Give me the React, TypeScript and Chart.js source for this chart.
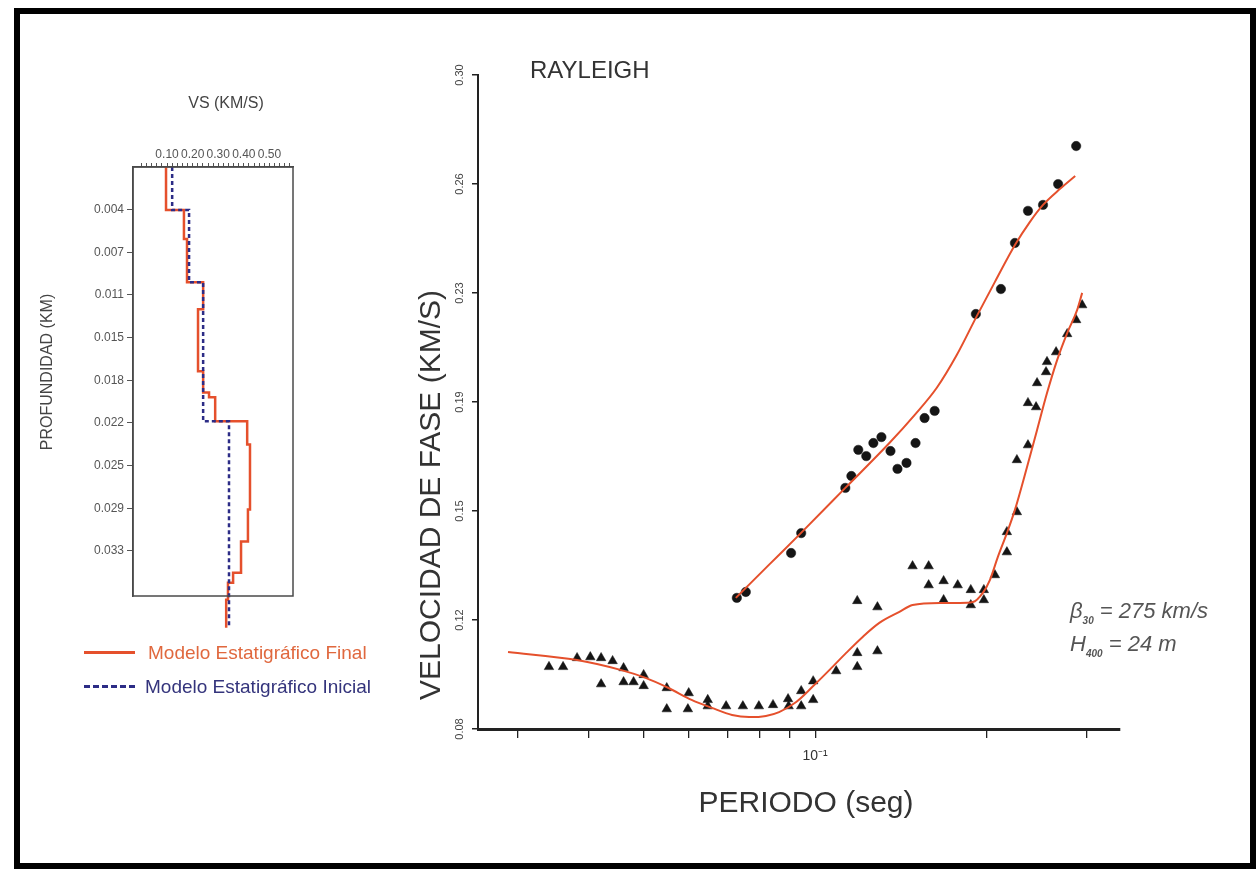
import React, { useEffect, useRef } from 'react';
import { Chart, registerables } from 'chart.js';

Chart.register(...registerables);

const FONT = '"Liberation Sans", Arial, Helvetica, sans-serif';
Chart.defaults.font.family = FONT;

// ---------- Left panel: shear-wave velocity profile ----------
const vsTickLabelValues = [0.1, 0.2, 0.3, 0.4, 0.5];
const depthTickValues = [0.00364, 0.00728, 0.01092, 0.01456, 0.0182, 0.02184, 0.02548, 0.02912, 0.03276];
const depthTickLabels = ['0.004', '0.007', '0.011', '0.015', '0.018', '0.022', '0.025', '0.029', '0.033'];

// Final model (layer tops in km, Vs in km/s)
const finalLayerTop = [0, 0.00367, 0.00615, 0.00983, 0.01213, 0.01743, 0.01923, 0.01965, 0.0217, 0.02367, 0.02922, 0.03196, 0.03461, 0.03546, 0.03691];
const finalLayerVs = [0.096, 0.166, 0.178, 0.241, 0.221, 0.241, 0.264, 0.288, 0.413, 0.424, 0.416, 0.389, 0.358, 0.338, 0.331];
const finalBottom = 0.0393;

// Initial model
const initialLayerTop = [0, 0.00367, 0.00983, 0.0217];
const initialLayerVs = [0.12, 0.186, 0.241, 0.342];
const initialBottom = 0.0393;

// ---------- Right panel: Rayleigh dispersion ----------
const periodTicks = [0.03, 0.04, 0.05, 0.06, 0.07, 0.08, 0.09, 0.1, 0.2, 0.3];
const velTickValues = [0.08, 0.11667, 0.15333, 0.19, 0.22667, 0.26333, 0.3];
const velTickLabels = ['0.08', '0.12', '0.15', '0.19', '0.23', '0.26', '0.30'];

const circlePeriod = [0.0728, 0.0755, 0.0907, 0.0945, 0.113, 0.1158, 0.1191, 0.123, 0.1266, 0.1308, 0.1357, 0.1396, 0.1448, 0.1502, 0.1558, 0.1623, 0.1918, 0.2123, 0.2247, 0.2369, 0.2518, 0.2677, 0.288];
const circleVel = [0.1241, 0.1261, 0.1392, 0.1459, 0.1611, 0.1651, 0.1739, 0.1718, 0.1762, 0.1782, 0.1735, 0.1675, 0.1695, 0.1762, 0.1846, 0.187, 0.2196, 0.228, 0.2435, 0.2543, 0.2563, 0.2633, 0.2761];

const trianglePeriod = [0.034, 0.036, 0.0381, 0.0402, 0.042, 0.044, 0.042, 0.046, 0.046, 0.0479, 0.0499, 0.0499, 0.0548, 0.0548, 0.0599, 0.0597, 0.0647, 0.0647, 0.0697, 0.0746, 0.0796, 0.0843, 0.0896, 0.0898, 0.0945, 0.0945, 0.0992, 0.0992, 0.1089, 0.1186, 0.1186, 0.1287, 0.1186, 0.1287, 0.1484, 0.1584, 0.1584, 0.1683, 0.1782, 0.1683, 0.1879, 0.1879, 0.1981, 0.1981, 0.2072, 0.2175, 0.2175, 0.2265, 0.2265, 0.2369, 0.2369, 0.2448, 0.2458, 0.2549, 0.2559, 0.2655, 0.2777, 0.288, 0.2951];
const triangleVel = [0.1009, 0.1009, 0.1039, 0.1042, 0.1039, 0.1029, 0.0951, 0.1005, 0.0958, 0.0958, 0.0982, 0.0945, 0.0938, 0.0867, 0.0921, 0.0867, 0.0898, 0.0877, 0.0877, 0.0877, 0.0877, 0.0881, 0.0901, 0.0877, 0.0928, 0.0877, 0.0961, 0.0898, 0.0995, 0.1056, 0.1009, 0.1062, 0.1231, 0.121, 0.1348, 0.1348, 0.1284, 0.1298, 0.1284, 0.1234, 0.1268, 0.1217, 0.1268, 0.1234, 0.1318, 0.1395, 0.1463, 0.153, 0.1705, 0.1755, 0.1897, 0.1883, 0.1964, 0.2001, 0.2035, 0.2068, 0.2129, 0.2176, 0.2226];

const upperFitPeriod = [0.0725, 0.0829, 0.0937, 0.113, 0.1351, 0.1496, 0.1636, 0.1775, 0.1918, 0.2072, 0.2247, 0.2388, 0.2518, 0.2698, 0.2869];
const upperFitVel = [0.1241, 0.1352, 0.1453, 0.1611, 0.1762, 0.1856, 0.1947, 0.2058, 0.2183, 0.2304, 0.2428, 0.2506, 0.2563, 0.2617, 0.266];

const lowerFitPeriod = [0.0288, 0.0381, 0.0456, 0.0503, 0.0552, 0.0606, 0.0658, 0.0714, 0.0765, 0.0819, 0.0864, 0.0926, 0.0988, 0.1059, 0.1134, 0.1211, 0.1297, 0.1407, 0.1484, 0.1656, 0.1797, 0.1895, 0.1973, 0.203, 0.2097, 0.2175, 0.2247, 0.236, 0.2458, 0.2559, 0.2666, 0.2777, 0.2892, 0.2951];
const lowerFitVel = [0.1059, 0.1032, 0.0998, 0.0972, 0.0938, 0.0898, 0.0871, 0.0847, 0.084, 0.0844, 0.0857, 0.0891, 0.0941, 0.0998, 0.1056, 0.1109, 0.1157, 0.1194, 0.1217, 0.1224, 0.1224, 0.1227, 0.1258, 0.1301, 0.1379, 0.1459, 0.1537, 0.1681, 0.1806, 0.193, 0.2041, 0.2132, 0.221, 0.2267];

const RED = '#e5502c';
const NAVY = '#2c2c86';

const pairs = (xs: number[], ys: number[]) => xs.map((x, i) => ({ x, y: ys[i] }));

const stepProfile = (tops: number[], vs: number[], bottom: number) => {
  const pts: { x: number; y: number }[] = [];
  tops.forEach((t, i) => {
    const b = i < tops.length - 1 ? tops[i + 1] : bottom;
    pts.push({ x: vs[i], y: t });
    pts.push({ x: vs[i], y: b });
  });
  return pts;
};

const boxPlugin = {
  id: 'boxPlugin',
  afterDraw(chart: any) {
    const { left, top, right, bottom } = chart.chartArea;
    const ctx = chart.ctx;
    ctx.save();
    ctx.strokeStyle = '#4a4a4a';
    ctx.lineWidth = 1.5;
    ctx.strokeRect(left, top, right - left, bottom - top);
    ctx.restore();
  },
};

const rotatedYLabels = {
  id: 'rotatedYLabels',
  afterDraw(chart: any) {
    const y = chart.scales.y;
    const ctx = chart.ctx;
    ctx.save();
    ctx.fillStyle = '#444';
    ctx.font = `11px ${FONT}`;
    ctx.textAlign = 'center';
    ctx.textBaseline = 'middle';
    velTickValues.forEach((v, i) => {
      const py = y.getPixelForValue(v);
      ctx.save();
      ctx.translate(y.right - 18, py);
      ctx.rotate(-Math.PI / 2);
      ctx.fillText(velTickLabels[i], 0, 0);
      ctx.restore();
    });
    ctx.restore();
  },
};

export default function App() {
  const leftRef = useRef<HTMLCanvasElement | null>(null);
  const rightRef = useRef<HTMLCanvasElement | null>(null);

  useEffect(() => {
    const vsMinor: number[] = [];
    for (let k = 0; k <= 29; k++) vsMinor.push(+(k * 0.02).toFixed(2));

    const left = new Chart(leftRef.current as HTMLCanvasElement, {
      type: 'scatter',
      data: {
        datasets: [
          {
            data: stepProfile(initialLayerTop, initialLayerVs, initialBottom),
            showLine: true,
            borderColor: NAVY,
            borderWidth: 2.5,
            borderDash: [4, 3],
            pointRadius: 0,
            clip: false,
          } as any,
          {
            data: stepProfile(finalLayerTop, finalLayerVs, finalBottom),
            showLine: true,
            borderColor: RED,
            borderWidth: 2.5,
            pointRadius: 0,
            clip: false,
          } as any,
        ],
      },
      options: {
        responsive: false,
        animation: false,
        events: [],
        layout: { padding: { left: 83, right: 965, top: 147, bottom: 275 } },
        plugins: { legend: { display: false }, tooltip: { enabled: false } },
        scales: {
          x: {
            type: 'linear',
            position: 'top',
            min: -0.033,
            max: 0.592,
            afterFit(s: any) { s.height = 20; },
            afterBuildTicks(s: any) { s.ticks = vsMinor.map((v) => ({ value: v })); },
            ticks: {
              autoSkip: false,
              maxRotation: 0,
              minRotation: 0,
              padding: 1,
              color: '#555',
              font: { size: 12 },
              callback: (v: any) => {
                const hit = vsTickLabelValues.find((t) => Math.abs(t - Number(v)) < 1e-6);
                return hit !== undefined ? hit.toFixed(2) : '';
              },
            },
            grid: { drawOnChartArea: false, tickLength: 4, color: '#555', lineWidth: 1 },
            border: { color: '#4a4a4a', width: 1.5 },
          },
          y: {
            type: 'linear',
            reverse: true,
            min: 0,
            max: 0.0366,
            afterFit(s: any) { s.width = 50; },
            afterBuildTicks(s: any) { s.ticks = depthTickValues.map((v) => ({ value: v })); },
            ticks: {
              autoSkip: false,
              padding: 3,
              color: '#555',
              font: { size: 12 },
              callback: (_v: any, i: number) => depthTickLabels[i],
            },
            grid: { drawOnChartArea: false, tickLength: 6, color: '#555', lineWidth: 1 },
            border: { color: '#4a4a4a', width: 1.5 },
          },
        },
      } as any,
      plugins: [boxPlugin],
    });

    const right = new Chart(rightRef.current as HTMLCanvasElement, {
      type: 'scatter',
      data: {
        datasets: [
          {
            data: pairs(upperFitPeriod, upperFitVel),
            showLine: true,
            borderColor: RED,
            borderWidth: 2,
            pointRadius: 0,
            cubicInterpolationMode: 'monotone',
          } as any,
          {
            data: pairs(lowerFitPeriod, lowerFitVel),
            showLine: true,
            borderColor: RED,
            borderWidth: 2,
            pointRadius: 0,
            cubicInterpolationMode: 'monotone',
          } as any,
          {
            data: pairs(circlePeriod, circleVel),
            pointStyle: 'circle',
            pointRadius: 4.7,
            backgroundColor: '#151515',
            borderColor: '#151515',
            borderWidth: 0.5,
          },
          {
            data: pairs(trianglePeriod, triangleVel),
            pointStyle: 'triangle',
            pointRadius: 5.5,
            backgroundColor: '#151515',
            borderColor: '#151515',
            borderWidth: 0.5,
          },
        ],
      },
      options: {
        responsive: false,
        animation: false,
        events: [],
        layout: { padding: { left: 438, right: 138, top: 75, bottom: 102 } },
        plugins: { legend: { display: false }, tooltip: { enabled: false } },
        scales: {
          x: {
            type: 'logarithmic',
            min: 0.0255,
            max: 0.344,
            afterFit(s: any) { s.height = 40; },
            afterBuildTicks(s: any) { s.ticks = periodTicks.map((v) => ({ value: v })); },
            ticks: {
              autoSkip: false,
              maxRotation: 0,
              minRotation: 0,
              padding: 10,
              color: '#333',
              font: { size: 14 },
              callback: (v: any) => (Math.abs(Number(v) - 0.1) < 1e-9 ? '10⁻¹' : ''),
            },
            grid: { drawOnChartArea: false, tickLength: 9, color: '#222', lineWidth: 1.3 },
            border: { color: '#222', width: 3 },
          },
          y: {
            type: 'linear',
            min: 0.08,
            max: 0.3,
            afterFit(s: any) { s.width = 40; },
            afterBuildTicks(s: any) { s.ticks = velTickValues.map((v) => ({ value: v })); },
            ticks: { display: false },
            grid: { drawOnChartArea: false, tickLength: 6, color: '#222', lineWidth: 1.5 },
            border: { color: '#222', width: 2 },
          },
        },
      } as any,
      plugins: [rotatedYLabels],
    });

    return () => {
      left.destroy();
      right.destroy();
    };
  }, []);

  const abs = (s: React.CSSProperties): React.CSSProperties => ({ position: 'absolute', whiteSpace: 'nowrap', lineHeight: 1, ...s });

  return (
    <div style={{ position: 'absolute', left: 0, top: 0, width: 1258, height: 871, background: '#fff', fontFamily: FONT, overflow: 'hidden' }}>
      <canvas ref={leftRef} width={1258} height={871} style={{ position: 'absolute', left: 0, top: 0, width: 1258, height: 871 }} />
      <canvas ref={rightRef} width={1258} height={871} style={{ position: 'absolute', left: 0, top: 0, width: 1258, height: 871 }} />

      {/* frame */}
      <div style={{ position: 'absolute', left: 14, top: 8, width: 1242, height: 861, border: '6px solid #000', boxSizing: 'border-box' }} />

      {/* left panel texts */}
      <div style={abs({ left: 226, top: 103, transform: 'translate(-50%, -50%)', fontSize: 16, color: '#444' })}>VS (KM/S)</div>
      <div style={abs({ left: 47, top: 372, transform: 'translate(-50%, -50%) rotate(-90deg)', fontSize: 16, color: '#444' })}>PROFUNDIDAD (KM)</div>

      {/* legend */}
      <div style={abs({ left: 84, top: 651, width: 51, height: 0, borderTop: `3px solid ${RED}` })} />
      <div style={abs({ left: 148, top: 652, transform: 'translateY(-50%)', fontSize: 19, color: '#e0683e' })}>Modelo Estatigráfico Final</div>
      <div style={abs({ left: 84, top: 685, width: 51, height: 0, borderTop: `3px dashed ${NAVY}` })} />
      <div style={abs({ left: 145, top: 686, transform: 'translateY(-50%)', fontSize: 19, color: '#34347c' })}>Modelo Estatigráfico Inicial</div>

      {/* right panel texts */}
      <div style={abs({ left: 530, top: 70, transform: 'translateY(-50%)', fontSize: 24, color: '#333' })}>RAYLEIGH</div>
      <div style={abs({ left: 430, top: 495, transform: 'translate(-50%, -50%) rotate(-90deg)', fontSize: 30, color: '#333' })}>VELOCIDAD DE FASE (KM/S)</div>
      <div style={abs({ left: 806, top: 802, transform: 'translate(-50%, -50%)', fontSize: 30, color: '#333' })}>PERIODO (seg)</div>

      <div style={abs({ left: 1070, top: 613, transform: 'translateY(-50%)', fontSize: 22, fontStyle: 'italic', color: '#555' })}>
        β<sub style={{ fontSize: 10, fontWeight: 'bold' }}>30</sub> = 275 km/s
      </div>
      <div style={abs({ left: 1070, top: 646, transform: 'translateY(-50%)', fontSize: 22, fontStyle: 'italic', color: '#555' })}>
        H<sub style={{ fontSize: 10, fontWeight: 'bold' }}>400</sub> = 24 m
      </div>
    </div>
  );
}
